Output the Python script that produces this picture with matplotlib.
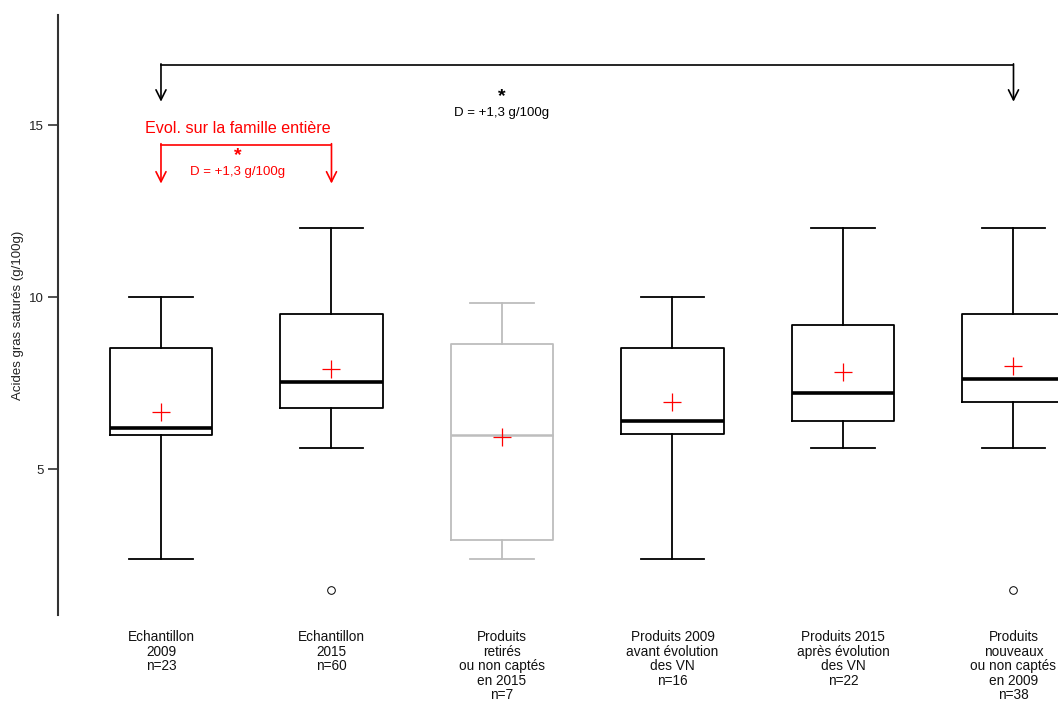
import matplotlib
matplotlib.use("Agg")
import matplotlib.pyplot as plt
from matplotlib.transforms import blended_transform_factory

plt.rcParams['font.family'] = ['Liberation Sans', 'DejaVu Sans']

categories = ["Echantillon\n2009\nn=23", "Echantillon\n2015\nn=60",
              "Produits\nretirés\nou non captés\nen 2015\nn=7",
              "Produits 2009\navant évolution\ndes VN\nn=16",
              "Produits 2015\naprès évolution\ndes VN\nn=22",
              "Produits\nnouveaux\nou non captés\nen 2009\nn=38"]
whisk_low = [2.4, 5.6, 2.4, 2.4, 5.6, 5.6]
q1 = [6.0, 6.77, 2.95, 6.02, 6.4, 6.95]
medians = [6.2, 7.52, 6.0, 6.4, 7.2, 7.62]
q3 = [8.52, 9.5, 8.64, 8.52, 9.19, 9.5]
whisk_high = [10.0, 12.0, 9.82, 10.0, 12.0, 12.0]
means = [6.67, 7.91, 5.92, 6.96, 7.82, 7.99]
outliers = [[], [1.5], [], [], [], [1.5]]
box_colors = ["black", "black", "#bdbdbd", "black", "black", "black"]

top_text = "D = +1,3 g/100g"
red_title = "Evol. sur la famille entière"

fig = plt.figure(figsize=(10.58, 7.01), dpi=100)
ax = fig.add_axes([58/1058, (701-615)/701, 1 - 58/1058, 600/701])

positions = list(range(1, 7))
for i, p in enumerate(positions):
    c = box_colors[i]
    st = dict(med=medians[i], q1=q1[i], q3=q3[i], whislo=whisk_low[i],
              whishi=whisk_high[i], fliers=outliers[i], mean=means[i])
    ax.bxp([st], positions=[p], widths=0.6, showmeans=True, patch_artist=False,
           boxprops=dict(color=c, linewidth=1.3),
           whiskerprops=dict(color=c, linewidth=1.3, linestyle='-'),
           capprops=dict(color=c, linewidth=1.3),
           capwidths=0.37,
           medianprops=dict(color=c, linewidth=2.6 if c == "black" else 1.8),
           meanprops=dict(marker='+', markeredgecolor='red', markersize=13,
                          markeredgewidth=0.9, linestyle='none'),
           flierprops=dict(marker='o', markerfacecolor='none',
                           markeredgecolor=c, markersize=5.5, markeredgewidth=0.7),
           manage_ticks=False)

ax.set_xlim(0.396, 6.261)
ax.set_ylim(0.76, 18.2)
ax.set_yticks([5, 10, 15])
ax.set_yticklabels(["5", "10", "15"], fontsize=9.5)
ax.tick_params(axis='y', length=7, width=1.2, pad=3, color='#333333', labelcolor='#222222')
ax.set_xticks([])
for s in ["top", "right", "bottom"]:
    ax.spines[s].set_visible(False)
ax.spines["left"].set_linewidth(1.5)
ax.spines["left"].set_color("#333333")
ax.set_ylabel("Acides gras saturés (g/100g)", fontsize=9.5, color='#222222')
ax.yaxis.set_label_coords(-0.034, 0.5)

trans = blended_transform_factory(ax.transData, ax.transAxes)
for p, lab in zip(positions, categories):
    ax.text(p, -0.025, lab, transform=trans, ha='center', va='top',
            fontsize=9.8, linespacing=1.05, clip_on=False, color='#111111')

# black bracket
ax.plot([1, 6], [16.74, 16.74], color='black', lw=1.2, clip_on=False)
for p in (1, 6):
    ax.annotate("", xy=(p, 15.68), xytext=(p, 16.78),
                arrowprops=dict(arrowstyle='->', color='black', lw=1.2,
                                mutation_scale=18, shrinkA=0, shrinkB=0))
ax.text(3.0, 15.82, "*", ha='center', va='center', fontsize=14, fontweight='bold')
ax.text(3.0, 15.35, top_text, ha='center', va='center', fontsize=9.5)

# red bracket
ax.text(1.45, 14.9, red_title, ha='center', va='center', fontsize=11.6, color='red')
ax.plot([1, 2], [14.42, 14.42], color='red', lw=1.2)
for p in (1, 2):
    ax.annotate("", xy=(p, 13.3), xytext=(p, 14.46),
                arrowprops=dict(arrowstyle='->', color='red', lw=1.2,
                                mutation_scale=18, shrinkA=0, shrinkB=0))
ax.text(1.45, 14.1, "*", ha='center', va='center', fontsize=14, fontweight='bold', color='red')
ax.text(1.45, 13.63, top_text, ha='center', va='center', fontsize=9.5, color='red')

fig.savefig("out.png", dpi=100)
